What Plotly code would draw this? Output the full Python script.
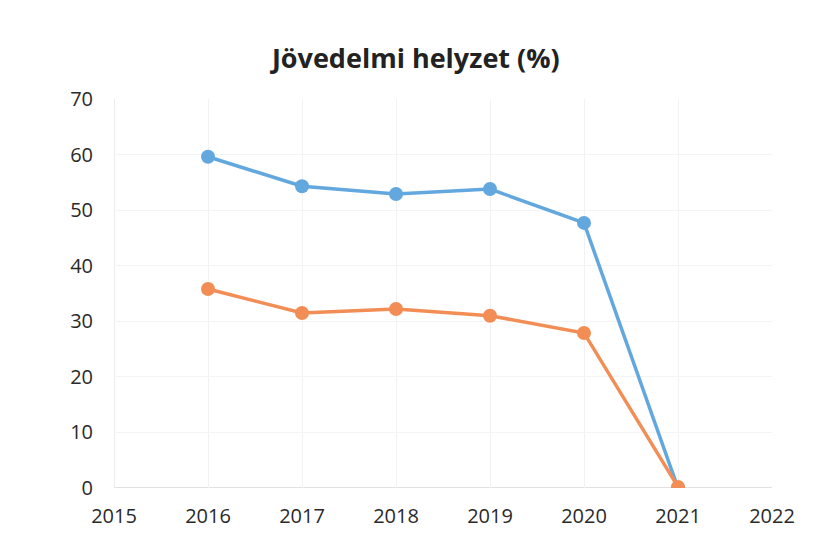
import plotly.graph_objects as go

years = [2016, 2017, 2018, 2019, 2020, 2021]
blue_values = [59.6, 54.3, 52.9, 53.8, 47.7, 0.0]
orange_values = [35.8, 31.5, 32.2, 31.0, 27.9, 0.2]
x_ticks = [2015, 2016, 2017, 2018, 2019, 2020, 2021, 2022]
y_ticks = [0, 10, 20, 30, 40, 50, 60, 70]

fig = go.Figure()
fig.add_trace(go.Scatter(x=years, y=blue_values, mode="lines+markers",
                         line=dict(color="#62A8DE", width=3.5),
                         marker=dict(color="#62A8DE", size=14)))
fig.add_trace(go.Scatter(x=years, y=orange_values, mode="lines+markers",
                         line=dict(color="#F28E55", width=3.5),
                         marker=dict(color="#F28E55", size=14)))

fig.update_layout(
    width=814, height=549,
    paper_bgcolor="white", plot_bgcolor="white",
    margin=dict(l=106, r=50, t=91, b=69),
    showlegend=False,
    font=dict(family="Open Sans, Lato, sans-serif", color="#2a2a2a", size=20),
    title=dict(text="<b>Jövedelmi helyzet (%)</b>", x=0.501, xanchor="center",
               y=0.908, yanchor="middle", font=dict(size=27, color="#222222")),
    xaxis=dict(range=[2015, 2022], tickvals=x_ticks, showgrid=True,
               gridcolor="#F2F2F2", gridwidth=1, zeroline=False, showline=False,
               ticks="", ticklabelstandoff=14),
    yaxis=dict(range=[0, 70], tickvals=y_ticks, showgrid=True,
               gridcolor="#F4F4F4", gridwidth=1, zeroline=False, showline=False,
               ticks="", ticklabelstandoff=20),
)
fig.add_hline(y=0, line=dict(color="#D9D9D9", width=1.5), layer="below")
fig.add_vline(x=2015, line=dict(color="#E6E6E6", width=1.5), layer="below")

fig.write_html("out.html")
